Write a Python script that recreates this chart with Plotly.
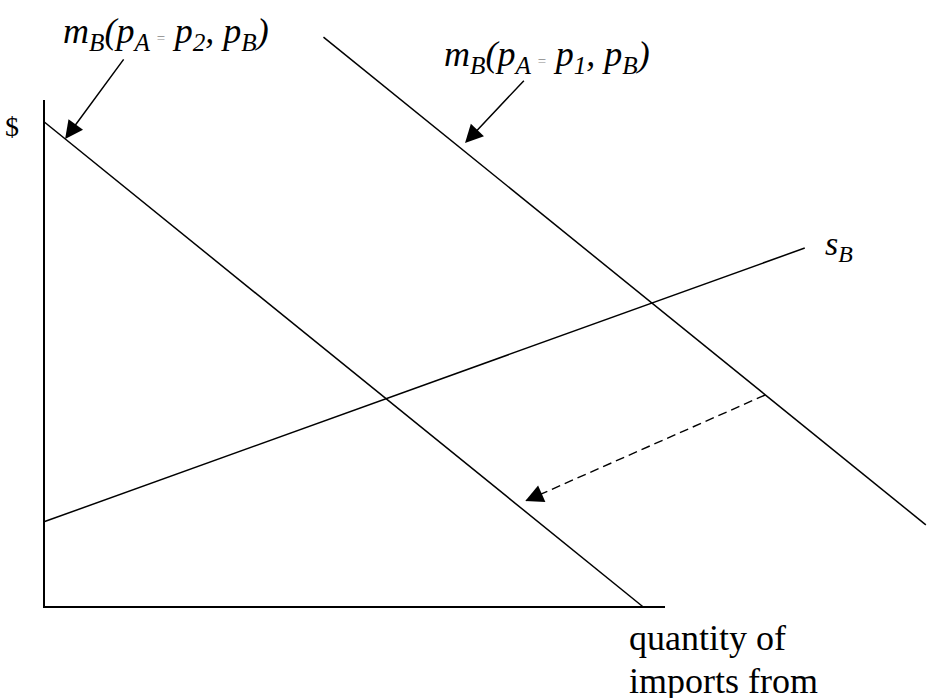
import plotly.graph_objects as go

# Quantity of imports from B (horizontal) and price in $ (vertical), 0-100 axes
axis_q = [0, 0, 100]
axis_p = [100, 0, 0]

# Import demand for B's good when p_A = p_2 (after the change)
m2_q = [0, 96.5]
m2_p = [95.7, 0]

# Import demand for B's good when p_A = p_1 (before the change)
m1_q = [45, 142]
m1_p = [112.4, 16.2]

# Export supply of country B
sB_q = [0, 122.5]
sB_p = [16.8, 70.8]

# Shift from the p_1 curve to the p_2 curve
shift_q = [116.1, 77.5]
shift_p = [41.8, 20.9]

# Pointer arrows from the curve labels (tail, tip)
ptr2_q = [13.0, 3.4]
ptr2_p = [108.3, 92.3]
ptr1_q = [77.5, 67.8]
ptr1_p = [104.1, 91.5]

W, H = 930, 698
X_RANGE = [-7.085, 142.67]
Y_RANGE = [-17.95, 119.72]

SERIF = "Liberation Serif"
INK = "black"

fig = go.Figure()

fig.add_trace(go.Scatter(x=axis_q, y=axis_p, mode="lines",
                         line=dict(color=INK, width=2), hoverinfo="skip"))
for q, p in [(m2_q, m2_p), (m1_q, m1_p), (sB_q, sB_p)]:
    fig.add_trace(go.Scatter(x=q, y=p, mode="lines",
                             line=dict(color=INK, width=1.5), hoverinfo="skip"))

fig.add_trace(go.Scatter(x=shift_q, y=shift_p, mode="lines",
                         line=dict(color=INK, width=1.4, dash="9px,5px"),
                         hoverinfo="skip"))


def arrow(tail_q, tail_p, tip_q, tip_p):
    fig.add_annotation(x=tip_q, y=tip_p, ax=tail_q, ay=tail_p,
                       xref="x", yref="y", axref="x", ayref="y",
                       text="", showarrow=True, arrowhead=2,
                       arrowwidth=1.5, arrowsize=2.4, arrowcolor=INK,
                       standoff=0, font=dict(size=10))


arrow(ptr2_q[0], ptr2_p[0], ptr2_q[1], ptr2_p[1])
arrow(ptr1_q[0], ptr1_p[0], ptr1_q[1], ptr1_p[1])
# head of the dashed shift arrow: short stub hidden under the head
f = 0.06
arrow(shift_q[1] + f * (shift_q[0] - shift_q[1]),
      shift_p[1] + f * (shift_p[0] - shift_p[1]),
      shift_q[1], shift_p[1])


def label(text, px, py, size, xanchor="left"):
    fig.add_annotation(x=px / W, y=1 - py / H, xref="paper", yref="paper",
                       text=text, showarrow=False, xanchor=xanchor,
                       yanchor="middle",
                       font=dict(family=SERIF, size=size, color=INK))


EQ = '<span style="font-size:15px;color:#888">=</span>'
label("<i>m<sub>B</sub>(p<sub>A </sub>" + EQ + "<i> p<sub>2</sub>, p<sub>B</sub>)</i></i>",
      61, 33, 36)
label("<i>m<sub>B</sub>(p<sub>A </sub>" + EQ + "<i> p<sub>1</sub>, p<sub>B</sub>)</i></i>",
      442, 57, 36)
label("<i>s<sub>B</sub></i>", 823, 246, 34)
label("$", 3, 127, 28)
label("quantity of", 627, 638, 36)
label("imports from", 627, 681, 36)

fig.update_xaxes(range=X_RANGE, visible=False, fixedrange=True)
fig.update_yaxes(range=Y_RANGE, visible=False, fixedrange=True)
fig.update_layout(width=W, height=H, margin=dict(l=0, r=0, t=0, b=0),
                  paper_bgcolor="white", plot_bgcolor="white",
                  showlegend=False)

fig.write_html("out.html")
